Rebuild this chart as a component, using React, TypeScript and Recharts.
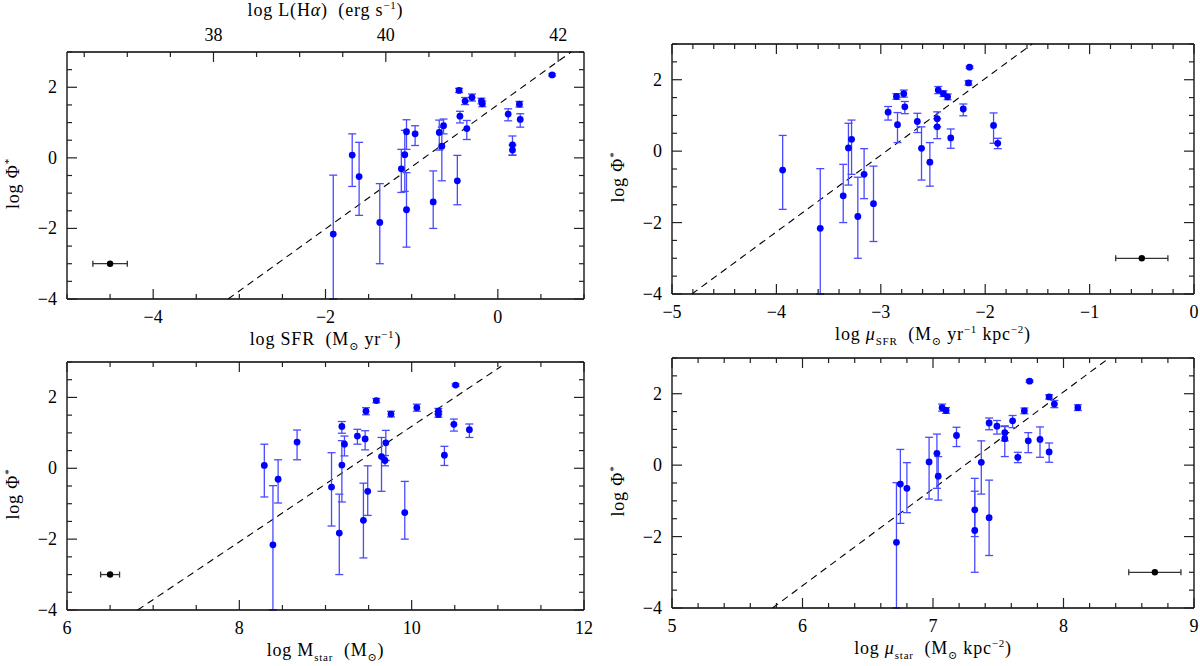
import React from "react";
import { ScatterChart, Scatter, XAxis, YAxis, ErrorBar, ReferenceLine } from "recharts";

// log Phi* of each galaxy, same order in all four panels
const logPhi = [-2.16, 0.08, -0.53, -1.83, -0.31, 0.09, 0.74, -1.47, 0.68, -1.25, 0.72, 0.33, 0.91, -0.65, 1.91, 1.18, 1.61, 0.83, 1.71, 1.61, 1.53, 1.24, 0.37, 0.22, 1.52, 1.09, 2.35];
const logPhiErrLow = [1.84, 0.89, 1.1, 1.17, 0.67, 1.04, 0.5, 1.06, 0.33, 0.75, 0.5, 0.98, 0.23, 0.68, 0.06, 0.19, 0.1, 0.31, 0.1, 0.08, 0.08, 0.19, 0.29, 0.15, 0.08, 0.22, 0.03];
const logPhiErrHigh = [1.67, 0.6, 0.97, 1.1, 0.55, 0.69, 0.34, 1.05, 0.23, 0.88, 0.35, 0.54, 0.19, 0.72, 0.06, 0.14, 0.1, 0.23, 0.1, 0.08, 0.08, 0.15, 0.25, 0.14, 0.08, 0.16, 0.03];

const logSFR = [-1.91, -1.69, -1.61, -1.37, -1.12, -1.08, -1.06, -1.06, -0.96, -0.75, -0.68, -0.65, -0.63, -0.47, -0.45, -0.44, -0.38, -0.36, -0.3, -0.19, -0.18, 0.12, 0.17, 0.17, 0.25, 0.26, 0.63];
const logMuSFR = [-3.58, -2.61, -3.94, -3.22, -2.53, -3.31, -2.84, -3.07, -2.46, -3.36, -1.92, -3.28, -2.46, -3.16, -2.16, -2.21, -2.78, -2.65, -2.45, -2.4, -2.85, -2.77, -2.33, -1.88, -2.36, -2.93, -2.15];
const logMstar = [8.39, 8.29, 9.07, 9.16, 8.45, 9.19, 8.67, 9.44, 9.22, 9.92, 9.7, 9.65, 9.37, 9.49, 9.59, 9.19, 9.47, 9.46, 10.06, 10.31, 9.76, 10.49, 10.38, 9.69, 10.31, 10.67, 10.51];
const logMuStar = [6.72, 7.37, 6.75, 7.32, 7.04, 6.97, 7.55, 7.43, 7.73, 7.32, 7.82, 7.03, 7.55, 6.8, 7.89, 7.43, 7.07, 7.18, 7.93, 8.11, 7.1, 7.61, 7.89, 7.65, 7.7, 7.49, 7.74];

// dashed relations (end points)
const fitSfrX = [-3.13, 0.85];
const fitSfrY = [-4, 3];
const fitMuSfrX = [-4.81, -1.55];
const fitMuSfrY = [-4, 3];
const fitMstarX = [6.82, 11.04];
const fitMstarY = [-4, 2.88];
const fitMuStarX = [5.77, 8.35];
const fitMuStarY = [-4, 3];

// typical error (black point)
const typicalX = [-4.5, -0.5, 6.5, 8.7];
const typicalErr = [0.2, 0.25, 0.11, 0.2];
const typicalY = -3;

// tick labels
const yMajors = [-4, -2, 0, 2];
const sfrMajors = [-4, -2, 0];
const lumMajors = [38, 40, 42];
const muSfrMajors = [-5, -4, -3, -2, -1, 0];
const mstarMajors = [6, 8, 10, 12];
const muStarMajors = [5, 6, 7, 8, 9];

const FONT = "'Liberation Serif', 'DejaVu Serif', serif";
const FS = 18;
const INK = "#000";
const TICK = "#222";
const BLUE = "#0000ff";
const BAR = "#4a4aff";
const Y_DOMAIN: [number, number] = [-4, 3];

const fmt = (v: number) => (v < 0 ? "\u2212" + Math.abs(v) : String(v));

const steps = (lo: number, hi: number, step: number) => {
  const out: number[] = [];
  for (let i = 0; lo + i * step <= hi + 1e-9; i++) out.push(+(lo + i * step).toFixed(3));
  return out;
};

type Seg = { t: string; sub?: boolean; sup?: boolean; it?: boolean };

function Rich({ segs, x, y, rotate }: { segs: Seg[]; x: number; y: number; rotate?: boolean }) {
  let shift = 0;
  return (
    <text
      x={x}
      y={y}
      textAnchor="middle"
      fontFamily={FONT}
      fontSize={FS}
      fill={INK}
      letterSpacing={0.8}
      style={{ whiteSpace: "pre" }}
      transform={rotate ? `rotate(-90 ${x} ${y})` : undefined}
    >
      {segs.map((s, i) => {
        const target = s.sub ? 5 : s.sup ? -7 : 0;
        const dy = target - shift;
        shift = target;
        return (
          <tspan key={i} dy={dy} fontSize={s.sub || s.sup ? 11 : undefined} fontStyle={s.it ? "italic" : undefined}>
            {s.t}
          </tspan>
        );
      })}
    </text>
  );
}

// inward ticks, long on labelled values
function tickRenderer(side: "bottom" | "top" | "left" | "right", majors: number[], labelled: boolean) {
  return (props: any) => {
    const x = Number(props.x);
    const y = Number(props.y);
    const v = Number(props.payload.value);
    const isMajor = majors.some((m) => Math.abs(m - v) < 1e-6);
    const len = isMajor ? 10 : 5;
    const d =
      side === "bottom" ? [x, y, x, y - len] :
      side === "top" ? [x, y, x, y + len] :
      side === "left" ? [x, y, x + len, y] : [x, y, x - len, y];
    return (
      <g>
        <line x1={d[0]} y1={d[1]} x2={d[2]} y2={d[3]} stroke={TICK} strokeWidth={1.2} />
        {labelled && isMajor ? (
          <text
            x={side === "left" ? x - 10 : x}
            y={side === "bottom" ? y + 24 : side === "top" ? y - 11 : y + 6}
            textAnchor={side === "left" ? "end" : "middle"}
            fontFamily={FONT}
            fontSize={FS}
            fill={INK}
          >
            {fmt(v)}
          </text>
        ) : null}
      </g>
    );
  };
}

const yTitle: Seg[] = [{ t: "log Φ" }, { t: "*", sup: true }];

type PanelProps = {
  left: number;
  top: number;
  width: number;
  height: number;
  plot: { l: number; r: number; t: number; b: number };
  xs: number[];
  xDomain: [number, number];
  xMajors: number[];
  xStep: number;
  xTitle: Seg[];
  fitX: number[];
  fitY: number[];
  refX: number;
  refErr: number;
  topAxis?: { domain: [number, number]; first: number; last: number; step: number; majors: number[]; title: Seg[] };
};

function Panel(p: PanelProps) {
  const { plot } = p;
  const pts = p.xs.map((x, i) => ({ x, y: logPhi[i], ey: [logPhiErrLow[i], logPhiErrHigh[i]] }));
  const typical = [{ x: p.refX, y: typicalY, ex: p.refErr }];
  const xTicks = steps(p.xDomain[0], p.xDomain[1], p.xStep);
  const yTicks = steps(Y_DOMAIN[0], Y_DOMAIN[1], 0.5);
  const axisLine = { stroke: INK, strokeWidth: 1.3 };
  const ta = p.topAxis;
  const topDomain = ta ? ta.domain : p.xDomain;
  // invisible anchor so the top and right axes get drawn
  const anchor = [{ x: (topDomain[0] + topDomain[1]) / 2, y: 0 }];

  return (
    <div style={{ position: "absolute", left: p.left, top: p.top, width: p.width, height: p.height }}>
      <ScatterChart width={p.width} height={p.height} margin={{ top: 0, right: 0, bottom: 0, left: 0 }}>
        <ReferenceLine
          segment={[
            { x: p.fitX[0], y: p.fitY[0] },
            { x: p.fitX[1], y: p.fitY[1] },
          ]}
          stroke="#000"
          strokeWidth={1.1}
          strokeDasharray="7 5"
          ifOverflow="visible"
        />
        <Scatter
          data={pts}
          isAnimationActive={false}
          shape={(sp: any) => <circle cx={sp.cx} cy={sp.cy} r={3.4} fill={BLUE} />}
        >
          <ErrorBar dataKey="ey" direction="y" width={4} stroke={BAR} strokeWidth={1.3} />
        </Scatter>
        <Scatter
          data={typical}
          isAnimationActive={false}
          shape={(sp: any) => <circle cx={sp.cx} cy={sp.cy} r={3.2} fill="#000" />}
        >
          <ErrorBar dataKey="ex" direction="x" width={3} stroke="#333" strokeWidth={1.3} />
        </Scatter>
        <Scatter data={anchor} xAxisId="t" yAxisId="r" isAnimationActive={false} shape={() => <g />} />
        <XAxis
          dataKey="x"
          type="number"
          domain={p.xDomain}
          allowDataOverflow
          ticks={xTicks}
          interval={0}
          tickSize={0}
          tickMargin={0}
          tickLine={false}
          height={p.height - plot.b}
          axisLine={axisLine}
          tick={tickRenderer("bottom", p.xMajors, true)}
          label={{
            content: (lp: any) => (
              <Rich segs={p.xTitle} x={lp.viewBox.x + lp.viewBox.width / 2} y={lp.viewBox.y + 46} />
            ),
          }}
        />
        <XAxis
          xAxisId="t"
          dataKey="x"
          orientation="top"
          type="number"
          domain={topDomain}
          allowDataOverflow
          ticks={ta ? steps(ta.first, ta.last, ta.step) : xTicks}
          interval={0}
          tickSize={0}
          tickMargin={0}
          tickLine={false}
          height={plot.t}
          axisLine={axisLine}
          tick={tickRenderer("top", ta ? ta.majors : p.xMajors, !!ta)}
          label={
            ta
              ? {
                  content: (lp: any) => (
                    <Rich segs={ta.title} x={lp.viewBox.x + lp.viewBox.width / 2} y={lp.viewBox.y + lp.viewBox.height - 36} />
                  ),
                }
              : undefined
          }
        />
        <YAxis
          dataKey="y"
          type="number"
          domain={Y_DOMAIN}
          allowDataOverflow
          ticks={yTicks}
          interval={0}
          tickSize={0}
          tickMargin={0}
          tickLine={false}
          width={plot.l}
          axisLine={axisLine}
          tick={tickRenderer("left", yMajors, true)}
          label={{
            content: (lp: any) => (
              <Rich
                segs={yTitle}
                x={lp.viewBox.x + lp.viewBox.width - 48}
                y={lp.viewBox.y + lp.viewBox.height / 2 + 8}
                rotate
              />
            ),
          }}
        />
        <YAxis
          yAxisId="r"
          dataKey="y"
          orientation="right"
          type="number"
          domain={Y_DOMAIN}
          allowDataOverflow
          ticks={yTicks}
          interval={0}
          tickSize={0}
          tickMargin={0}
          tickLine={false}
          width={p.width - plot.r}
          axisLine={axisLine}
          tick={tickRenderer("right", yMajors, false)}
        />
      </ScatterChart>
    </div>
  );
}

export default function App() {
  return (
    <div style={{ position: "absolute", left: 0, top: 0, width: 1200, height: 666, background: "#fff", overflow: "hidden" }}>
      <Panel
        left={0}
        top={0}
        width={600}
        height={360}
        plot={{ l: 67, r: 584, t: 52, b: 299 }}
        xs={logSFR}
        xDomain={[-5, 1]}
        xMajors={sfrMajors}
        xStep={0.5}
        xTitle={[{ t: "log SFR  (M" }, { t: "⊙", sub: true }, { t: " yr" }, { t: "−1", sup: true }, { t: ")" }]}
        fitX={fitSfrX}
        fitY={fitSfrY}
        refX={typicalX[0]}
        refErr={typicalErr[0]}
        topAxis={{
          domain: [36.3, 42.3],
          first: 36.5,
          last: 42,
          step: 0.5,
          majors: lumMajors,
          title: [{ t: "log L(H" }, { t: "α", it: true }, { t: ")  (erg s" }, { t: "−1", sup: true }, { t: ")" }],
        }}
      />
      <Panel
        left={600}
        top={0}
        width={600}
        height={360}
        plot={{ l: 72, r: 594, t: 44, b: 294 }}
        xs={logMuSFR}
        xDomain={[-5, 0]}
        xMajors={muSfrMajors}
        xStep={0.2}
        xTitle={[
          { t: "log " }, { t: "μ", it: true }, { t: "SFR", sub: true }, { t: "  (M" }, { t: "⊙", sub: true },
          { t: " yr" }, { t: "−1", sup: true }, { t: " kpc" }, { t: "−2", sup: true }, { t: ")" },
        ]}
        fitX={fitMuSfrX}
        fitY={fitMuSfrY}
        refX={typicalX[1]}
        refErr={typicalErr[1]}
      />
      <Panel
        left={0}
        top={360}
        width={600}
        height={306}
        plot={{ l: 67, r: 584, t: 2, b: 250 }}
        xs={logMstar}
        xDomain={[6, 12]}
        xMajors={mstarMajors}
        xStep={0.5}
        xTitle={[{ t: "log M" }, { t: "star", sub: true }, { t: "  (M" }, { t: "⊙", sub: true }, { t: ")" }]}
        fitX={fitMstarX}
        fitY={fitMstarY}
        refX={typicalX[2]}
        refErr={typicalErr[2]}
      />
      <Panel
        left={600}
        top={356}
        width={600}
        height={310}
        plot={{ l: 72, r: 594, t: 2, b: 252 }}
        xs={logMuStar}
        xDomain={[5, 9]}
        xMajors={muStarMajors}
        xStep={0.2}
        xTitle={[
          { t: "log " }, { t: "μ", it: true }, { t: "star", sub: true }, { t: "  (M" }, { t: "⊙", sub: true },
          { t: " kpc" }, { t: "−2", sup: true }, { t: ")" },
        ]}
        fitX={fitMuStarX}
        fitY={fitMuStarY}
        refX={typicalX[3]}
        refErr={typicalErr[3]}
      />
    </div>
  );
}
